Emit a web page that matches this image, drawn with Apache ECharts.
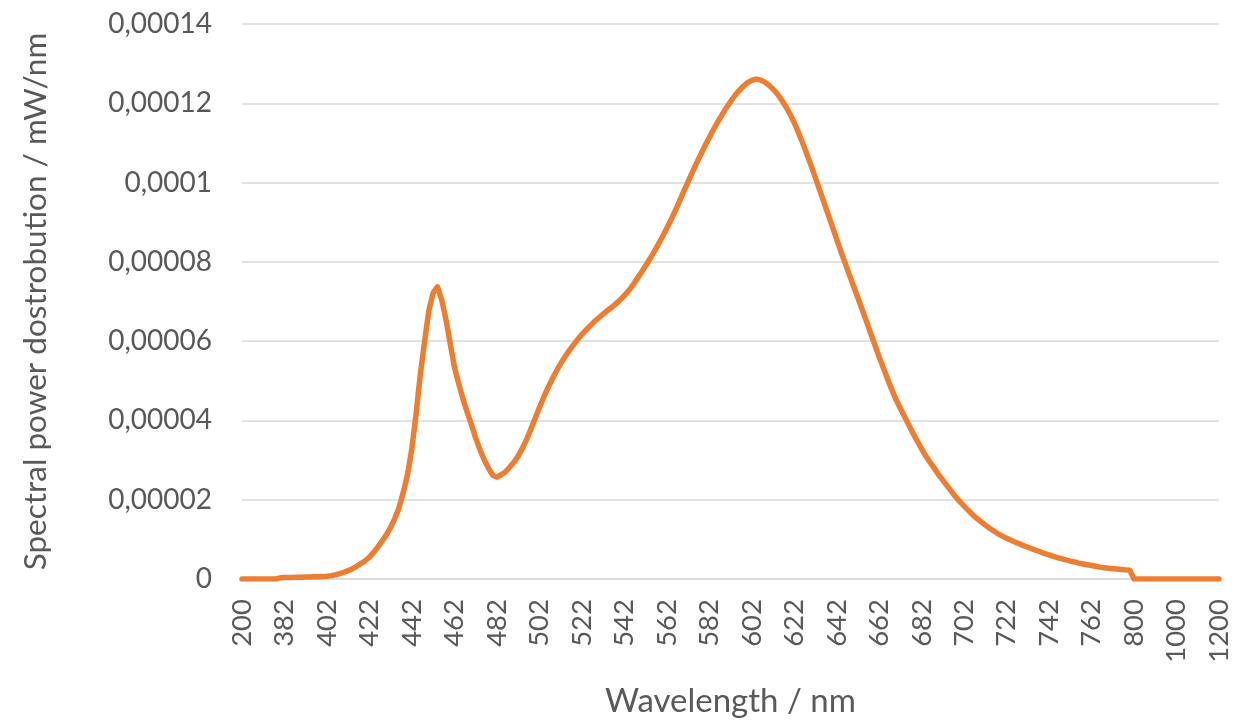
<!DOCTYPE html>
<html><head><meta charset="utf-8">
<script src="https://cdn.jsdelivr.net/npm/echarts@6/dist/echarts.min.js"></script>
<style>html,body{margin:0;padding:0;background:#fff}#c{width:1247px;height:727px}</style>
</head><body><div id="c"></div>
<script>
// Wavelength categories (nm): coarse below 380, 2 nm steps 380-780, coarse above
const wlLow = [200,220,240,260,280,300,320,340,360];
const wlMain = [380,382,384,386,388,390,392,394,396,398,400,402,404,406,408,410,412,414,416,418,420,422,424,426,428,430,432,434,436,438,440,442,444,446,448,450,452,454,456,458,460,462,464,466,468,470,472,474,476,478,480,482,484,486,488,490,492,494,496,498,500,502,504,506,508,510,512,514,516,518,520,522,524,526,528,530,532,534,536,538,540,542,544,546,548,550,552,554,556,558,560,562,564,566,568,570,572,574,576,578,580,582,584,586,588,590,592,594,596,598,600,602,604,606,608,610,612,614,616,618,620,622,624,626,628,630,632,634,636,638,640,642,644,646,648,650,652,654,656,658,660,662,664,666,668,670,672,674,676,678,680,682,684,686,688,690,692,694,696,698,700,702,704,706,708,710,712,714,716,718,720,722,724,726,728,730,732,734,736,738,740,742,744,746,748,750,752,754,756,758,760,762,764,766,768,770,772,774,776,778,780];
const wlHigh = [800,820,840,860,880,900,920,940,960,980,1000,1020,1040,1060,1080,1100,1120,1140,1160,1180,1200];

// Spectral power distribution (mW/nm)
const spdLow = [0,0,0,0,0,0,0,0,0];
const spdMain = [
0.3e-6,0.35e-6,0.4e-6,0.4e-6,0.45e-6,0.45e-6,0.5e-6,0.5e-6,0.55e-6,0.55e-6,
0.6e-6,0.7e-6,0.85e-6,1.05e-6,1.35e-6,1.7e-6,2.1e-6,2.6e-6,3.2e-6,3.9e-6,
4.6e-6,5.5e-6,6.7e-6,8.1e-6,9.6e-6,11.2e-6,13.1e-6,15.3e-6,18.1e-6,22.0e-6,
26.5e-6,33.0e-6,41.8e-6,51.8e-6,60.0e-6,67.8e-6,72.2e-6,73.7e-6,70.5e-6,65.5e-6,
59.5e-6,53.5e-6,49.3e-6,45.5e-6,42.1e-6,39.0e-6,35.6e-6,32.7e-6,30.1e-6,28.0e-6,
26.2e-6,25.7e-6,26.3e-6,27.0e-6,28.2e-6,29.4e-6,31.0e-6,33.0e-6,35.2e-6,37.8e-6,
40.5e-6,43.2e-6,45.8e-6,48.2e-6,50.4e-6,52.4e-6,54.3e-6,56.0e-6,57.6e-6,59.0e-6,
60.4e-6,61.7e-6,62.8e-6,63.9e-6,65.0e-6,65.9e-6,66.8e-6,67.7e-6,68.5e-6,69.4e-6,
70.4e-6,71.5e-6,72.7e-6,74.1e-6,75.7e-6,77.3e-6,79.0e-6,80.7e-6,82.5e-6,84.4e-6,
86.4e-6,88.5e-6,90.6e-6,92.9e-6,95.3e-6,97.8e-6,100.2e-6,102.6e-6,104.9e-6,107.1e-6,
109.3e-6,111.4e-6,113.4e-6,115.3e-6,117.1e-6,118.8e-6,120.4e-6,121.9e-6,123.2e-6,124.3e-6,
125.2e-6,125.8e-6,126.1e-6,125.9e-6,125.4e-6,124.6e-6,123.6e-6,122.4e-6,120.9e-6,119.2e-6,
117.3e-6,115.1e-6,112.6e-6,109.9e-6,107.1e-6,104.2e-6,101.2e-6,98.1e-6,95.0e-6,91.9e-6,
88.8e-6,85.7e-6,82.6e-6,79.6e-6,76.7e-6,73.8e-6,70.9e-6,68.0e-6,65.0e-6,62.0e-6,
59.0e-6,56.0e-6,53.2e-6,50.4e-6,47.7e-6,45.2e-6,43.0e-6,40.9e-6,38.8e-6,36.7e-6,
34.7e-6,32.8e-6,31.0e-6,29.4e-6,27.9e-6,26.3e-6,24.9e-6,23.5e-6,22.1e-6,20.7e-6,
19.5e-6,18.4e-6,17.3e-6,16.2e-6,15.3e-6,14.4e-6,13.6e-6,12.8e-6,12.1e-6,11.4e-6,
10.8e-6,10.3e-6,9.8e-6,9.3e-6,8.9e-6,8.4e-6,8.0e-6,7.6e-6,7.2e-6,6.8e-6,
6.4e-6,6.1e-6,5.7e-6,5.4e-6,5.1e-6,4.8e-6,4.5e-6,4.3e-6,4.0e-6,3.8e-6,
3.6e-6,3.4e-6,3.2e-6,3.0e-6,2.85e-6,2.7e-6,2.6e-6,2.5e-6,2.4e-6,2.3e-6,
2.2e-6];
const spdHigh = [0,0,0,0,0,0,0,0,0,0,0,0,0,0,0,0,0,0,0,0,0];

const yTicks = ['0','0,00002','0,00004','0,00006','0,00008','0,0001','0,00012','0,00014'];

const categories = wlLow.concat(wlMain, wlHigh).map(String);
const values = spdLow.concat(spdMain, spdHigh);

const font = 'Lato, "Open Sans", sans-serif';
const chart = echarts.init(document.getElementById('c'));
chart.setOption({
  animation: false,
  grid: {left: 242, right: 28, top: 24, bottom: 148},
  xAxis: {
    type: 'category',
    data: categories,
    boundaryGap: false,
    axisLine: {show: true, lineStyle: {color: '#d9d9d9', width: 1.5}},
    axisTick: {show: false},
    axisLabel: {interval: 9, rotate: 90, margin: 20, color: '#595959', fontSize: 27.5, fontFamily: font},
    splitLine: {show: false},
    name: 'Wavelength / nm',
    nameLocation: 'middle',
    nameGap: 106,
    nameTextStyle: {color: '#595959', fontSize: 33, fontFamily: font}
  },
  yAxis: {
    type: 'value',
    min: 0, max: 0.00014, interval: 0.00002,
    axisLine: {show: false},
    axisTick: {show: false},
    axisLabel: {margin: 30, color: '#595959', fontSize: 28, fontFamily: font,
      formatter: (v) => yTicks[Math.round(v / 0.00002)]},
    splitLine: {lineStyle: {color: '#d9d9d9', width: 1.5}},
    name: 'Spectral power dostrobution / mW/nm',
    nameLocation: 'middle',
    nameGap: 190,
    nameTextStyle: {color: '#595959', fontSize: 31.5, fontFamily: font}
  },
  series: [{
    type: 'line',
    data: values,
    showSymbol: false,
    smooth: false,
    lineStyle: {color: '#ED7D31', width: 5.5, cap: 'round', join: 'round'}
  }]
});
</script></body></html>
